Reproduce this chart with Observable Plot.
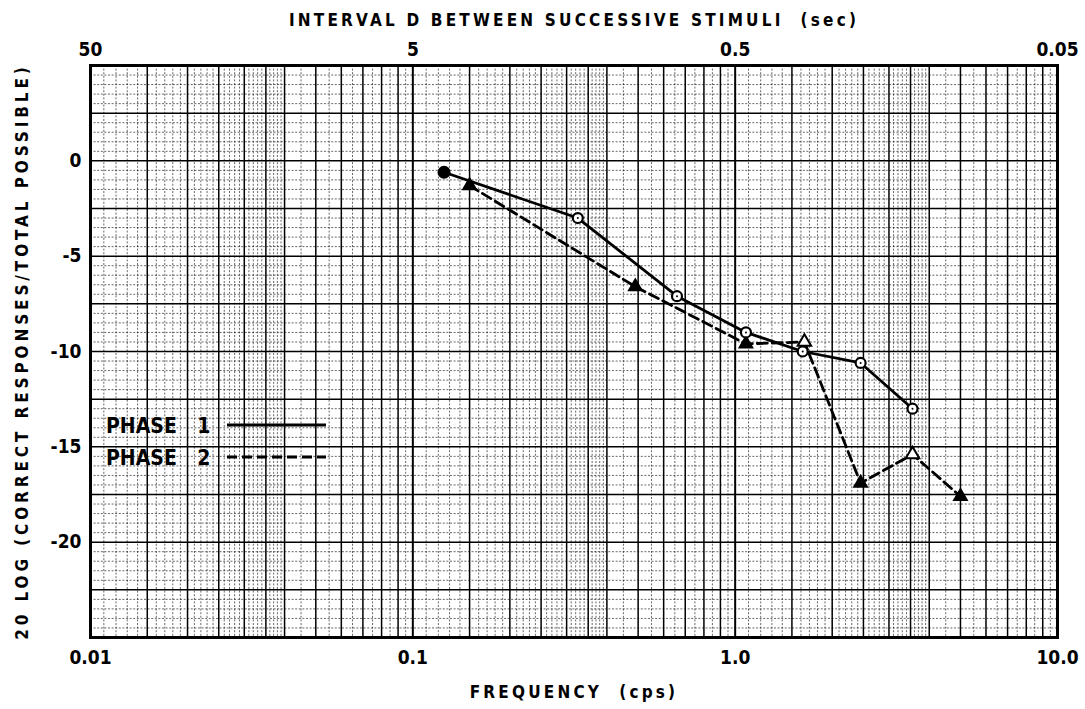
<!DOCTYPE html>
<html><head><meta charset="utf-8">
<script src="https://cdn.jsdelivr.net/npm/d3@7"></script>
<script src="https://cdn.jsdelivr.net/npm/@observablehq/plot@0.6"></script>
<style>
html,body{margin:0;padding:0;background:#fff;}
#chart{width:1085px;height:709px;}
</style></head><body><div id="chart"></div>
<script>
// ---- data ----
const phase1Freq  = [0.125, 0.325, 0.66, 1.08, 1.62, 2.45, 3.55];
const phase1Value = [-0.6, -3.0, -7.1, -9.0, -10.0, -10.6, -13.0];
const phase2Freq  = [0.15, 0.49, 1.08, 1.64, 2.45, 3.55, 5.0];
const phase2Value = [-1.3, -6.6, -9.6, -9.5, -16.9, -15.4, -17.6];
const seriesNames = ["PHASE 1", "PHASE 2"];

const xTicks = [0.01, 0.1, 1, 10];
const xTickLabels = ["0.01", "0.1", "1.0", "10.0"];
const topTickLabels = ["50", "5", "0.5", "0.05"];
const yTicks = [0, -5, -10, -15, -20];
const yTickLabels = ["0", "-5", "-10", "-15", "-20"];

const topTitle = "INTERVAL D BETWEEN SUCCESSIVE STIMULI  (sec)";
const bottomTitle = "FREQUENCY  (cps)";
const leftTitle = "20 LOG (CORRECT RESPONSES/TOTAL POSSIBLE)";

// ---- grid (log graph paper) ----
const decades = [0.01, 0.1, 1, 10];
const mediumMant = [1.5, 2, 2.5, 3, 3.5, 4, 5, 6, 7, 8, 9];
const fineMant = [];
for (let m = 1.1; m < 4.05; m += 0.1) {
  const r = Math.round(m * 10) / 10;
  if (!mediumMant.includes(r) && r !== 1) fineMant.push(r);
}
[4.5, 5.5, 6.5, 7.5, 8.5, 9.5].forEach(m => fineMant.push(m));
const mediumX = [], fineX = [];
[0.01, 0.1, 1].forEach(d => {
  mediumMant.forEach(m => mediumX.push(d * m));
  fineMant.forEach(m => fineX.push(d * m));
});
const mediumY = d3.range(-25, 5.01, 2.5);
const fineY = d3.range(-25, 5.01, 0.5).filter(v => Math.abs(v / 2.5 - Math.round(v / 2.5)) > 1e-6);

const phase1 = phase1Freq.map((f, i) => ({f, v: phase1Value[i], i}));
const phase2 = phase2Freq.map((f, i) => ({f, v: phase2Value[i], i}));
const openTri = [3, 5];

const FONT = "'DejaVu Sans Condensed', 'DejaVu Sans', sans-serif";

const legend = (index, scales, values, dims) => {
  const g = d3.create("svg:g").attr("font-family", FONT).attr("font-weight", "bold")
    .attr("font-size", 21).attr("text-anchor", "start");
  const x0 = dims.marginLeft + 16, y0 = dims.marginTop;
  seriesNames.forEach((name, k) => {
    const y = y0 + 360 + k * 32;
    g.append("text").attr("x", x0).attr("y", y).attr("dy", "0.36em").attr("fill", "#000")
      .attr("word-spacing", "14px").text(name);
    g.append("line").attr("x1", x0 + 121).attr("x2", x0 + 220).attr("y1", y).attr("y2", y)
      .attr("stroke", "#000").attr("stroke-width", 2.8)
      .attr("stroke-dasharray", k === 0 ? null : "10,5");
  });
  return g.node();
};

const chart = Plot.plot({
  width: 1085,
  height: 709,
  marginLeft: 90,
  marginRight: 28,
  marginTop: 65,
  marginBottom: 72,
  style: {fontFamily: FONT, background: "#fff", color: "#000"},
  x: {type: "log", domain: [0.01, 10]},
  y: {domain: [-25, 5]},
  marks: [
    Plot.ruleX(fineX, {stroke: "#000", strokeOpacity: 0.75, strokeWidth: 0.8, strokeDasharray: "2,1.6"}),
    Plot.ruleY(fineY, {stroke: "#000", strokeOpacity: 0.75, strokeWidth: 0.8, strokeDasharray: "2,1.6"}),
    Plot.ruleX(mediumX, {stroke: "#000", strokeWidth: 1.5}),
    Plot.ruleY(mediumY, {stroke: "#000", strokeWidth: 1.5}),
    Plot.ruleX(decades, {stroke: "#000", strokeWidth: 2}),
    Plot.frame({stroke: "#000", strokeWidth: 3}),
    Plot.axisX({anchor: "bottom", ticks: xTicks, tickSize: 0, tickPadding: 13, label: null,
      tickFormat: d => xTickLabels[xTicks.indexOf(d)], fontSize: 19, fontWeight: "bold"}),
    Plot.axisX({anchor: "top", ticks: xTicks, tickSize: 0, tickPadding: 10, label: null,
      tickFormat: d => topTickLabels[xTicks.indexOf(d)], fontSize: 19, fontWeight: "bold"}),
    Plot.axisY({anchor: "left", ticks: yTicks, tickSize: 0, tickPadding: 9, label: null,
      tickFormat: d => yTickLabels[yTicks.indexOf(d)], fontSize: 19, fontWeight: "bold"}),
    Plot.text([topTitle], {frameAnchor: "top", dy: -45, lineAnchor: "middle", text: d => d,
      fontSize: 17, fontWeight: "bold", fill: "#000"}),
    Plot.text([bottomTitle], {frameAnchor: "bottom", dy: 55, lineAnchor: "middle", text: d => d,
      fontSize: 17, fontWeight: "bold", fill: "#000"}),
    Plot.text([leftTitle], {frameAnchor: "left", dx: -68, rotate: -90, textAnchor: "middle", lineAnchor: "middle",
      text: d => d, fontSize: 17, fontWeight: "bold", fill: "#000"}),
    Plot.line(phase1, {x: "f", y: "v", stroke: "#000", strokeWidth: 2.8}),
    Plot.line(phase2, {x: "f", y: "v", stroke: "#000", strokeWidth: 2.8, strokeDasharray: "10,5"}),
    Plot.dot(phase2.filter(d => !openTri.includes(d.i)), {x: "f", y: "v", symbol: "triangle", r: 5, fill: "#000", stroke: "#000"}),
    Plot.dot(phase2.filter(d => openTri.includes(d.i)), {x: "f", y: "v", symbol: "triangle", r: 5, fill: "#fff", stroke: "#000", strokeWidth: 2}),
    Plot.dot(phase1.filter(d => d.i === 0), {x: "f", y: "v", r: 6.5, fill: "#000"}),
    Plot.dot(phase1.filter(d => d.i !== 0), {x: "f", y: "v", r: 5, fill: "#fff", stroke: "#000", strokeWidth: 2.2}),
    Plot.dot(phase1.filter(d => d.i !== 0), {x: "f", y: "v", r: 1, fill: "#000"}),
    legend
  ]
});
// widen the lettering of the hand-lettered titles
d3.select(chart).selectAll("text").each(function () {
  const t = this.textContent;
  if (t === topTitle || t === bottomTitle) d3.select(this).style("letter-spacing", "3.2px");
  if (t === leftTitle) d3.select(this).style("letter-spacing", "3.9px");
});
document.getElementById("chart").appendChild(chart);
</script>
</body></html>
